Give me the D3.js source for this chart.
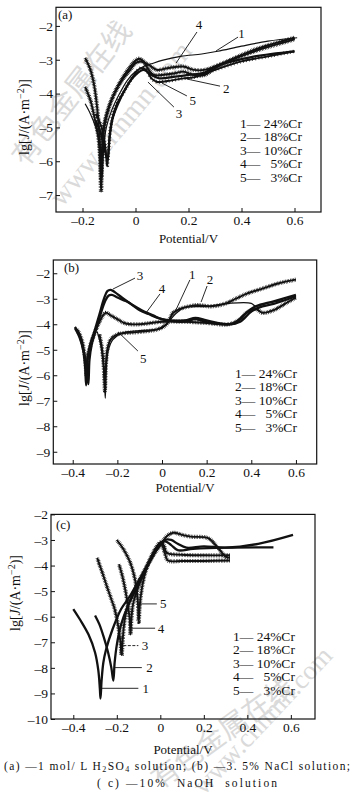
<!DOCTYPE html>
<html><head><meta charset="utf-8">
<script src="https://cdn.jsdelivr.net/npm/d3@7"></script>
<style>
body{margin:0;background:#fff}
svg{display:block;font-family:"Liberation Serif",serif}
text{font-family:"Liberation Serif",serif;fill:#111}
</style>
</head><body>
<svg id="chart" width="356" height="806"></svg>
<script>
// ---------------- data ----------------
const seriesNames = ["24%Cr","18%Cr","10%Cr","5%Cr","3%Cr"];
const seriesIds = ["1","2","3","4","5"];
const xTicks = [-0.4,-0.2,0,0.2,0.4,0.6];
const yTicksA = [-2,-3,-4,-5,-6,-7];
const yTicksB = [-2,-3,-4,-5,-6,-7,-8,-9];
const yTicksC = [-2,-3,-4,-5,-6,-7,-8,-9,-10];
const panelLabels = ["(a)","(b)","(c)"];
const captionLine2 = "( c) \u201410%  NaOH  solution";

// Panel (a): 1 mol/L H2SO4  [potential V, lg J]
const a1 = [[-0.19,-4.3],[-0.17,-4.6],[-0.15,-5.0],[-0.135,-5.5],[-0.128,-6.0],[-0.125,-6.4],[-0.12,-5.6],[-0.11,-5.0],[-0.09,-4.5],[-0.06,-4.0],[-0.03,-3.6],[0.0,-3.35],[0.03,-3.2],[0.06,-3.12],[0.1,-3.02],[0.17,-2.9],[0.25,-2.83],[0.31,-2.75],[0.4,-2.6],[0.5,-2.45],[0.61,-2.35]];
const a2 = [[-0.15,-4.8],[-0.13,-5.2],[-0.115,-5.7],[-0.105,-5.95],[-0.098,-5.3],[-0.085,-4.7],[-0.06,-4.2],[-0.03,-3.75],[0.0,-3.45],[0.03,-3.3],[0.06,-3.45],[0.09,-3.55],[0.15,-3.5],[0.2,-3.45],[0.26,-3.38],[0.3,-3.2],[0.35,-3.08],[0.45,-2.9],[0.6,-2.75]];
const a3 = [[-0.15,-4.6],[-0.13,-4.95],[-0.115,-5.5],[-0.107,-6.15],[-0.1,-5.5],[-0.09,-4.8],[-0.07,-4.3],[-0.04,-3.9],[-0.01,-3.5],[0.02,-3.25],[0.04,-3.3],[0.06,-3.55],[0.08,-3.65],[0.12,-3.63],[0.18,-3.55],[0.22,-3.52],[0.3,-3.3],[0.4,-3.05],[0.5,-2.9],[0.6,-2.75]];
const a4 = [[-0.19,-3.8],[-0.17,-4.2],[-0.155,-4.7],[-0.14,-5.3],[-0.133,-6.0],[-0.13,-6.5],[-0.126,-5.6],[-0.12,-5.0],[-0.105,-4.5],[-0.08,-4.0],[-0.05,-3.6],[-0.02,-3.3],[0.0,-3.1],[0.02,-3.05],[0.05,-3.15],[0.08,-3.3],[0.12,-3.25],[0.18,-3.2],[0.22,-3.3],[0.26,-3.3],[0.33,-3.1],[0.45,-2.7],[0.6,-2.35]];
const a5 = [[-0.19,-2.95],[-0.17,-3.3],[-0.155,-3.8],[-0.145,-4.4],[-0.138,-5.0],[-0.133,-5.8],[-0.13,-6.9],[-0.125,-5.8],[-0.118,-5.0],[-0.1,-4.4],[-0.08,-4.0],[-0.05,-3.55],[-0.02,-3.2],[0.0,-3.02],[0.015,-2.97],[0.03,-3.05],[0.05,-3.3],[0.07,-3.45],[0.1,-3.45],[0.15,-3.4],[0.18,-3.35],[0.22,-3.45],[0.26,-3.45],[0.3,-3.25],[0.35,-3.05],[0.45,-2.75],[0.6,-2.4]];

// Panel (b): 3.5% NaCl
const b1 = [[-0.29,-4.3],[-0.275,-4.8],[-0.263,-5.6],[-0.257,-6.4],[-0.254,-6.9],[-0.25,-5.8],[-0.24,-5.0],[-0.22,-4.6],[-0.18,-4.35],[-0.1,-4.25],[0.0,-4.15],[0.03,-3.9],[0.06,-3.6],[0.1,-3.35],[0.2,-3.3],[0.3,-3.18],[0.4,-3.18],[0.42,-3.3],[0.48,-3.15],[0.55,-3.05],[0.6,-2.9]];
const b2 = [[-0.28,-4.4],[-0.268,-5.0],[-0.26,-5.8],[-0.256,-6.6],[-0.252,-5.7],[-0.245,-5.0],[-0.23,-4.6],[-0.2,-4.4],[-0.1,-4.3],[-0.02,-4.2],[0.02,-4.0],[0.05,-3.55],[0.08,-3.4],[0.12,-3.3],[0.16,-3.25],[0.22,-3.3],[0.28,-3.2],[0.33,-3.0],[0.38,-2.8],[0.45,-2.6],[0.52,-2.4],[0.6,-2.25]];
const b3 = [[-0.39,-4.1],[-0.37,-4.4],[-0.355,-4.9],[-0.345,-5.6],[-0.34,-6.4],[-0.335,-5.5],[-0.325,-4.9],[-0.3,-4.2],[-0.28,-3.6],[-0.26,-3.0],[-0.245,-2.7],[-0.23,-2.65],[-0.21,-2.75],[-0.18,-2.95],[-0.14,-3.2],[-0.1,-3.45],[-0.06,-3.6],[-0.02,-3.75],[0.02,-3.85],[0.1,-3.9],[0.15,-3.8],[0.2,-3.92],[0.28,-4.0],[0.33,-3.95],[0.37,-3.6],[0.42,-3.3],[0.5,-3.1],[0.6,-2.85]];
const b4 = [[-0.39,-4.15],[-0.37,-4.5],[-0.35,-5.1],[-0.338,-5.8],[-0.33,-6.35],[-0.325,-5.4],[-0.315,-4.8],[-0.295,-4.2],[-0.275,-3.6],[-0.255,-3.1],[-0.24,-2.88],[-0.225,-2.85],[-0.2,-2.95],[-0.16,-3.1],[-0.12,-3.3],[-0.08,-3.5],[-0.04,-3.65],[0.0,-3.8],[0.1,-3.85],[0.15,-3.75],[0.2,-3.85],[0.3,-4.0],[0.35,-3.9],[0.4,-3.5],[0.45,-3.3],[0.5,-3.2],[0.6,-2.9]];
const b5 = [[-0.38,-4.2],[-0.36,-4.6],[-0.345,-5.3],[-0.338,-6.0],[-0.333,-5.3],[-0.32,-4.8],[-0.3,-4.3],[-0.28,-3.9],[-0.26,-3.6],[-0.25,-3.55],[-0.23,-3.65],[-0.2,-3.8],[-0.17,-3.95],[-0.14,-4.0],[-0.1,-4.0],[-0.05,-3.95],[0.0,-3.9],[0.1,-3.9],[0.2,-3.95],[0.3,-4.0],[0.35,-3.8],[0.38,-3.55],[0.42,-3.4],[0.45,-3.55],[0.5,-3.45],[0.55,-3.2],[0.6,-2.95]];

// Panel (c): 10% NaOH
const c1 = [[-0.4,-5.7],[-0.37,-6.1],[-0.33,-6.7],[-0.3,-7.4],[-0.285,-8.1],[-0.278,-8.8],[-0.275,-9.2],[-0.27,-8.5],[-0.262,-7.8],[-0.25,-7.3],[-0.22,-6.5],[-0.18,-5.7],[-0.14,-5.2],[-0.1,-4.6],[-0.06,-4.0],[-0.03,-3.55],[0.0,-3.15],[0.02,-3.0],[0.05,-3.0],[0.08,-3.15],[0.12,-3.3],[0.2,-3.25],[0.3,-3.3],[0.45,-3.15],[0.61,-2.8]];
const c2 = [[-0.3,-5.95],[-0.28,-6.3],[-0.26,-6.8],[-0.24,-7.4],[-0.225,-8.0],[-0.216,-8.5],[-0.21,-7.8],[-0.2,-7.1],[-0.18,-6.3],[-0.15,-5.6],[-0.11,-4.9],[-0.07,-4.2],[-0.04,-3.7],[-0.01,-3.3],[0.02,-3.05],[0.05,-3.2],[0.08,-3.4],[0.15,-3.35],[0.3,-3.3],[0.52,-3.29]];
const c3 = [[-0.29,-3.7],[-0.27,-4.2],[-0.25,-4.7],[-0.23,-5.2],[-0.21,-5.7],[-0.195,-6.3],[-0.183,-7.0],[-0.178,-7.5],[-0.172,-6.8],[-0.165,-6.2],[-0.15,-5.6],[-0.12,-5.0],[-0.08,-4.3],[-0.04,-3.7],[0.0,-3.2],[0.03,-2.85],[0.06,-2.72],[0.1,-2.8],[0.14,-2.87],[0.22,-2.93],[0.26,-3.26],[0.3,-3.65],[0.32,-3.7]];
const c4 = [[-0.19,-3.95],[-0.175,-4.4],[-0.16,-5.0],[-0.148,-5.6],[-0.14,-6.2],[-0.137,-6.7],[-0.133,-6.1],[-0.125,-5.5],[-0.1,-4.8],[-0.07,-4.2],[-0.04,-3.7],[-0.02,-3.35],[0.0,-3.1],[0.015,-3.2],[0.03,-3.5],[0.1,-3.58],[0.2,-3.6],[0.32,-3.6]];
const c5 = [[-0.2,-3.0],[-0.17,-3.35],[-0.14,-3.85],[-0.12,-4.4],[-0.108,-5.0],[-0.102,-5.6],[-0.099,-6.2],[-0.095,-5.6],[-0.085,-4.9],[-0.07,-4.3],[-0.05,-3.8],[-0.03,-3.45],[-0.01,-3.2],[0.005,-3.15],[0.02,-3.5],[0.035,-3.8],[0.1,-3.82],[0.2,-3.82],[0.32,-3.8]];

// annotations: [label, textV, textLg, fromV, fromLg, toV, toLg]
const notesA = [["1",0.40,-2.22,0.387,-2.33,0.304,-2.74],["4",0.24,-1.97,0.232,-2.18,0.153,-3.10],["2",0.342,-3.84,0.319,-3.78,0.194,-3.57],["5",0.216,-4.21,0.194,-4.07,0.10,-3.69],["3",0.164,-4.6,0.145,-4.40,0.047,-3.66]];
const notesB = [["3",-0.099,-2.07,-0.121,-2.19,-0.22,-2.62],["1",0.136,-2.03,0.125,-2.26,0.058,-3.52],["2",0.215,-2.24,0.202,-2.50,0.175,-3.13],["4",0.0,-2.59,-0.009,-2.81,-0.072,-3.56],["5",-0.084,-5.33,-0.108,-5.05,-0.197,-4.30]];
const notesC = [["5",0.014,-5.5,-0.093,-5.5,-0.016,-5.5],["4",0.003,-6.45,-0.131,-6.45,-0.024,-6.45],["3",-0.07,-7.13,-0.17,-7.13,-0.101,-7.13],["2",-0.05,-7.99,-0.208,-7.99,-0.085,-7.99],["1",-0.067,-8.8,-0.269,-8.8,-0.101,-8.8]];

// ---------------- layout ----------------
const SERIF = "'Liberation Serif','Times New Roman',serif";
const CJK = "'Noto Sans CJK SC',sans-serif";
const svg = d3.select("#chart");
const panels = [
  {label:panelLabels[0], xd:[-0.3,0.7], xr:[56,321], yd:[-7.5,-1.45], yr:[212,7.3], xt:xTicks.filter(d=>d>-0.3), yt:yTicksA,
   series:[a1,a2,a3,a4,a5], styles:["thin","thick","mark","hairy","hairy"], notes:notesA, dashedNote:null,
   legX:240, legY:128, xlabY:243, ylab:{x:24,y:117}, labPos:[58,19]},
  {label:panelLabels[1], xd:[-0.487,0.693], xr:[53.3,316.7], yd:[-9.48,-1.48], yr:[464,260], xt:xTicks, yt:yTicksB,
   series:[b1,b2,b3,b4,b5], styles:["thin","hairy","thick","thick","hairy"], notes:notesB, dashedNote:null,
   legX:235, legY:378, xlabY:492, ylab:{x:24,y:368}, labPos:[64,272]},
  {label:panelLabels[2], xd:[-0.5025,0.711], xr:[51,315], yd:[-10,-2], yr:[719,514.4], xt:xTicks, yt:yTicksC,
   series:[c1,c2,c3,c4,c5], styles:["thick","thick","hairy","hairy","hairy"], notes:notesC, dashedNote:"3",
   legX:233, legY:641, xlabY:754, ylab:{x:15,y:593}, labPos:[56,529]}
];

// watermarks (decoration)
const wm = svg.append("g");
function mark(x,y,ang,txt,size,fam){
  wm.append("text").attr("transform",`translate(${x},${y}) rotate(${ang})`)
    .style("font-size",size+"px").style("fill","#dadada").style("font-family",fam).text(txt);
}
mark(26,168,-52,"有色金属在线",29,CJK);
mark(62,208,-50,"www.cnnmn.com",29,SERIF);
mark(160,790,-36,"有色金属在线",28,CJK);
mark(204,796,-47,"www.cnnmn.com",27,SERIF);

const fmt = d => d===0 ? "0" : (d<0 ? "\u2013"+d3.format("")(Math.abs(d)) : d3.format("")(d));

panels.forEach(p => {
  const x = d3.scaleLinear().domain(p.xd).range(p.xr);
  const y = d3.scaleLinear().domain(p.yd).range(p.yr);
  const g = svg.append("g");

  // frame
  g.append("rect").attr("x",p.xr[0]).attr("y",p.yr[1]).attr("width",p.xr[1]-p.xr[0]).attr("height",p.yr[0]-p.yr[1])
    .attr("fill","none").attr("stroke","#111").attr("stroke-width",1.2);

  const xa = g.append("g").attr("transform",`translate(0,${p.yr[0]})`)
    .call(d3.axisBottom(x).tickValues(p.xt).tickSizeInner(-4).tickSizeOuter(0).tickPadding(3).tickFormat(d=>fmt(+d.toFixed(1))));
  const ya = g.append("g").attr("transform",`translate(${p.xr[0]},0)`)
    .call(d3.axisLeft(y).tickValues(p.yt).tickSizeInner(-4).tickSizeOuter(0).tickPadding(3).tickFormat(fmt));
  [xa,ya].forEach(a=>{
    a.attr("font-family",null).attr("font-size",null);
    a.select(".domain").remove();
    a.selectAll("line").attr("stroke","#111").attr("stroke-width",1);
    a.selectAll("text").style("font-family",SERIF).style("font-size","13.5px").attr("fill","#111");
  });

  // x label
  g.append("text").attr("x",(p.xr[0]+p.xr[1])/2).attr("y",p.xlabY).attr("text-anchor","middle")
    .style("font-family",SERIF).style("font-size","13px").text("Potential/V");
  // y label
  const yl = g.append("text").attr("transform",`translate(${p.ylab.x},${p.ylab.y}) rotate(-90)`)
    .attr("text-anchor","middle").attr("dy","0.35em").style("font-family",SERIF).style("font-size","14px");
  yl.append("tspan").text("lg[");
  yl.append("tspan").style("font-style","italic").text("J");
  yl.append("tspan").text("/(A\u00b7m");
  yl.append("tspan").attr("dy","-5").style("font-size","10px").text("\u22122");
  yl.append("tspan").attr("dy","5").text(")]");

  // panel label
  g.append("text").attr("x",p.labPos[0]).attr("y",p.labPos[1]).style("font-family",SERIF).style("font-size","13px").text(p.label);

  // curves
  const line = d3.line().x(d=>x(d[0])).y(d=>y(d[1])).curve(d3.curveCatmullRom.alpha(0.5));
  const cg = g.append("g");
  p.series.forEach((s,i) => {
    const st = p.styles[i];
    if (st==="hairy") {
      cg.append("path").attr("d",line(s)).attr("fill","none").attr("stroke","#111")
        .attr("stroke-width",4.2).attr("stroke-dasharray","0.6 1.0");
      cg.append("path").attr("d",line(s)).attr("fill","none").attr("stroke","#111").attr("stroke-width",1.9);
    } else if (st==="mark") {
      cg.append("path").attr("d",line(s)).attr("fill","none").attr("stroke","#111")
        .attr("stroke-width",3.6).attr("stroke-dasharray","0.7 2.5");
      cg.append("path").attr("d",line(s)).attr("fill","none").attr("stroke","#111").attr("stroke-width",1.9);
    } else if (st==="thick") {
      cg.append("path").attr("d",line(s)).attr("fill","none").attr("stroke","#111").attr("stroke-width",2.3);
    } else {
      cg.append("path").attr("d",line(s)).attr("fill","none").attr("stroke","#111").attr("stroke-width",1.2);
    }
  });

  // annotations
  const ng = g.append("g");
  p.notes.forEach(n => {
    ng.append("line").attr("x1",x(n[3])).attr("y1",y(n[4])).attr("x2",x(n[5])).attr("y2",y(n[6]))
      .attr("stroke","#111").attr("stroke-width",0.9)
      .attr("stroke-dasharray", n[0]===p.dashedNote ? "3 1.5" : null);
    ng.append("text").attr("x",x(n[1])).attr("y",y(n[2])).attr("dy","0.35em").attr("text-anchor","middle")
      .style("font-family",SERIF).style("font-size","13px").text(n[0]);
  });

  // legend
  const lg = g.append("g");
  seriesIds.forEach((id,i) => {
    lg.append("text").attr("x",p.legX).attr("y",p.legY+i*13.4)
      .style("font-family",SERIF).style("font-size","13.5px").style("white-space","pre")
      .text(id+"\u2014 "+(seriesNames[i].length<5?"\u2002":"")+seriesNames[i]);
  });
});

// caption
const cap1 = svg.append("text").attr("x",4).attr("y",770).style("font-family",SERIF).style("font-size","11.5px");
cap1.append("tspan").text("(a) \u20141 mol/ L H");
cap1.append("tspan").attr("dy",2).style("font-size","8px").text("2");
cap1.append("tspan").attr("dy",-2).text("SO");
cap1.append("tspan").attr("dy",2).style("font-size","8px").text("4");
cap1.append("tspan").attr("dy",-2).text(" solution;  (b) \u20143. 5%  NaCl solution;");
cap1.attr("textLength",346).attr("lengthAdjust","spacing");
svg.append("text").attr("x",97).attr("y",787).style("font-family",SERIF).style("font-size","11.5px")
  .style("white-space","pre").attr("textLength",180).attr("lengthAdjust","spacing").text(captionLine2);
</script>
</body></html>
